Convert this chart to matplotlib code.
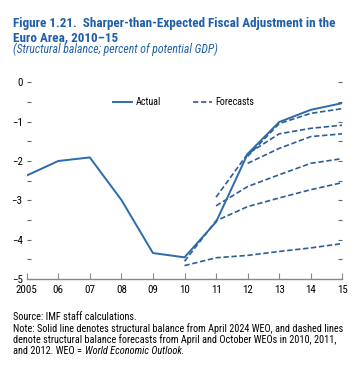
import matplotlib
matplotlib.use("Agg")
import matplotlib.pyplot as plt
from matplotlib.lines import Line2D
from matplotlib import font_manager

names = {f.name for f in font_manager.fontManager.ttflist}
FONT = 'Liberation Sans'
for cand in ['Liberation Sans Narrow', 'Roboto Condensed', 'Open Sans Condensed', 'Liberation Sans']:
    if cand in names:
        FONT = cand
        break
plt.rcParams['font.family'] = [FONT, 'DejaVu Sans']

BLUE = '#1f5fa8'
LINE = '#2a6bb0'
DASH = '#2d5d96'

years = [2005, 2006, 2007, 2008, 2009, 2010, 2011, 2012, 2013, 2014, 2015]
actual = [-2.37, -2.0, -1.91, -2.99, -4.34, -4.45, -3.55, -1.82, -1.01, -0.70, -0.53]

fc_apr2010_x = [2010, 2011, 2012, 2013, 2014, 2015]
fc_apr2010 = [-4.66, -4.46, -4.40, -4.30, -4.21, -4.10]
fc_oct2010_x = [2010, 2011, 2012, 2013, 2014, 2015]
fc_oct2010 = [-4.55, -3.52, -3.16, -2.94, -2.73, -2.55]
fc_apr2011_x = [2011, 2012, 2013, 2014, 2015]
fc_apr2011 = [-3.14, -2.65, -2.35, -2.06, -1.94]
fc_oct2011_x = [2011, 2012, 2013, 2014, 2015]
fc_oct2011 = [-2.92, -1.82, -1.31, -1.17, -1.09]
fc_apr2012_x = [2012, 2013, 2014, 2015]
fc_apr2012 = [-2.06, -1.68, -1.38, -1.31]
fc_oct2012_x = [2012, 2013, 2014, 2015]
fc_oct2012 = [-1.88, -1.05, -0.79, -0.67]

forecasts = [(fc_apr2010_x, fc_apr2010), (fc_oct2010_x, fc_oct2010),
             (fc_apr2011_x, fc_apr2011), (fc_oct2011_x, fc_oct2011),
             (fc_apr2012_x, fc_apr2012), (fc_oct2012_x, fc_oct2012)]

xtick_labels = ['2005', '06', '07', '08', '09', '10', '11', '12', '13', '14', '15']
yticks = [0, -1, -2, -3, -4, -5]
ytick_labels = ['0', '\u22121', '\u22122', '\u22123', '\u22124', '\u22125']

W, H = 358, 377
fig = plt.figure(figsize=(W / 100, H / 100), dpi=100)
renderer = fig.canvas.get_renderer()


def width_px(s, size, **kw):
    t = fig.text(0, 0, s, fontsize=size, **kw)
    w = t.get_window_extent(renderer).width
    t.remove()
    return w


def fit_size(s, target, **kw):
    return 10.0 * target / width_px(s, 10.0, **kw)


ax = fig.add_axes([26.7 / W, 1 - 279 / H, (342.3 - 26.7) / W, (279 - 82.3) / H])

for xs, ys in forecasts:
    ax.plot(xs, ys, color=DASH, lw=1.2, linestyle=(0, (3.2, 1.6)))
ax.plot(years, actual, color=LINE, lw=1.4)

tick_fs = min(fit_size('2005', 21.5), 8.5)
ax.set_xlim(2005, 2015)
ax.set_ylim(-5, 0)
ax.set_xticks(years)
ax.set_xticklabels(xtick_labels, fontsize=tick_fs)
ax.set_yticks(yticks)
ax.set_yticklabels(ytick_labels, fontsize=tick_fs)
ax.set_yticks([-0.5, -1.5, -2.5, -3.5, -4.5], minor=True)
for s in ['top', 'right', 'left']:
    ax.spines[s].set_visible(False)
ax.spines['bottom'].set_color('#888888')
ax.spines['bottom'].set_linewidth(1.0)
ax.tick_params(axis='x', direction='in', length=4, color='#888888', pad=4)
ax.tick_params(axis='y', which='both', direction='in', length=3, color='#666666',
               left=True, right=True, pad=3, width=0.8)

leg_fs = min(fit_size('Forecasts', 39), 8.5)
handles = [Line2D([], [], color=LINE, lw=1.4),
           Line2D([], [], color=DASH, lw=1.2, linestyle=(0, (3.2, 1.6)))]
leg = ax.legend(handles, ['Actual', 'Forecasts'], ncol=2, frameon=False,
                loc='center', bbox_to_anchor=((183.5 - 26.7) / (342.3 - 26.7), (279 - 102.3) / (279 - 82.3)),
                fontsize=leg_fs, handlelength=1.9, handletextpad=0.3, columnspacing=3.2)

title1 = 'Figure 1.21.  Sharper-than-Expected Fiscal Adjustment in the'
title_fs = 0.97 * fit_size(title1, 332, fontweight='bold')
fig.text(13 / W, 1 - 26.5 / H, title1,
         fontsize=title_fs, fontweight='bold', color=BLUE, va='baseline', ha='left')
fig.text(13 / W, 1 - 41 / H, 'Euro Area, 2010\u201315',
         fontsize=title_fs, fontweight='bold', color=BLUE, va='baseline', ha='left')
sub = '(Structural balance; percent of potential GDP)'
sub_fs = fit_size(sub, 205, style='italic')
fig.text(13 / W, 1 - 53.5 / H, sub,
         fontsize=sub_fs, style='italic', color=BLUE, va='baseline', ha='left')

note1 = 'Note: Solid line denotes structural balance from April 2024 WEO, and dashed lines'
fs = fit_size(note1, 331)
fig.text(13 / W, 1 - 320 / H, 'Source: IMF staff calculations.', fontsize=fs, va='baseline')
fig.text(13 / W, 1 - 331.5 / H, note1, fontsize=fs, va='baseline')
fig.text(13 / W, 1 - 343 / H,
         'denote structural balance forecasts from April and October WEOs in 2010, 2011,',
         fontsize=fs, va='baseline')
t = fig.text(13 / W, 1 - 354.5 / H, 'and 2012. WEO = ', fontsize=fs, va='baseline')
bb = t.get_window_extent(renderer)
fig.text(bb.x1 / W + 0.5 / W, 1 - 354.5 / H, 'World Economic Outlook.', fontsize=fs,
         va='baseline', style='italic')

fig.savefig('out.png', dpi=100)
